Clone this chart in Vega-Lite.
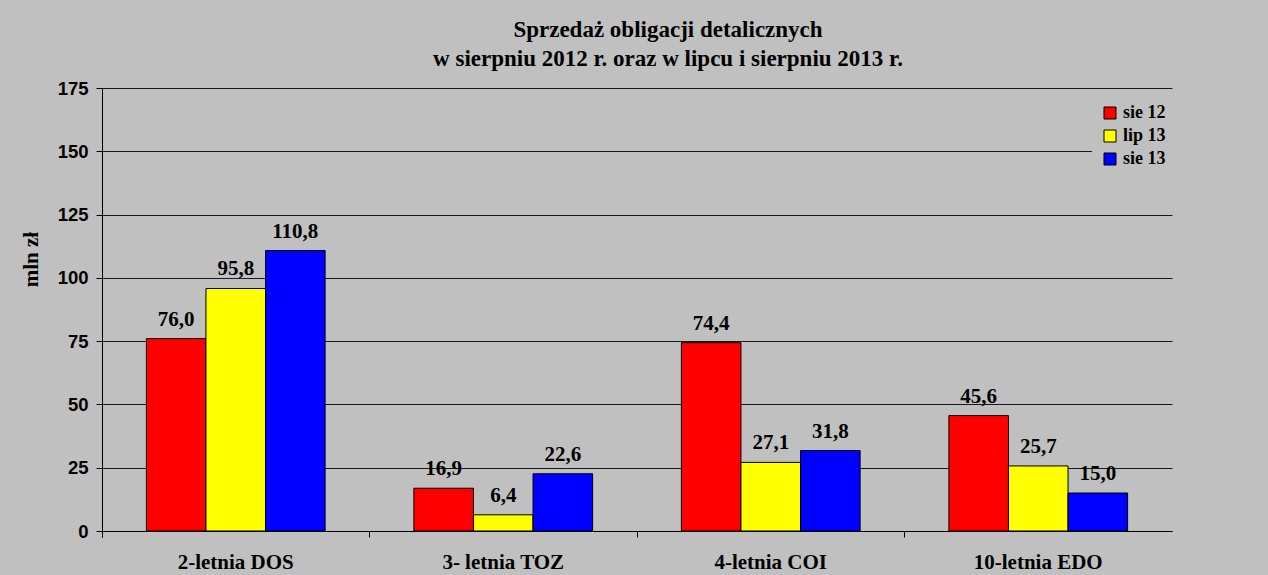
{
  "$schema": "https://vega.github.io/schema/vega-lite/v6.json",
  "width": 1070,
  "height": 443,
  "autosize": {"type": "none"},
  "padding": {"left": 102, "top": 88, "right": 96, "bottom": 44},
  "background": "#C0C0C0",
  "title": {
    "text": ["Sprzedaż obligacji detalicznych", "w sierpniu 2012 r. oraz w lipcu i sierpniu 2013 r."],
    "font": "Liberation Serif",
    "fontSize": 23,
    "fontWeight": "bold",
    "color": "black",
    "lineHeight": 29,
    "anchor": "middle",
    "dx": 31,
    "offset": -10,
    "baseline": "alphabetic"
  },
  "data": {
    "values": [
      {"typ": "2-letnia DOS", "okres": "sie 12", "wartosc": 76.0},
      {"typ": "2-letnia DOS", "okres": "lip 13", "wartosc": 95.8},
      {"typ": "2-letnia DOS", "okres": "sie 13", "wartosc": 110.8},
      {"typ": "3- letnia TOZ", "okres": "sie 12", "wartosc": 16.9},
      {"typ": "3- letnia TOZ", "okres": "lip 13", "wartosc": 6.4},
      {"typ": "3- letnia TOZ", "okres": "sie 13", "wartosc": 22.6},
      {"typ": "4-letnia COI", "okres": "sie 12", "wartosc": 74.4},
      {"typ": "4-letnia COI", "okres": "lip 13", "wartosc": 27.1},
      {"typ": "4-letnia COI", "okres": "sie 13", "wartosc": 31.8},
      {"typ": "10-letnia EDO", "okres": "sie 12", "wartosc": 45.6},
      {"typ": "10-letnia EDO", "okres": "lip 13", "wartosc": 25.7},
      {"typ": "10-letnia EDO", "okres": "sie 13", "wartosc": 15.0}
    ]
  },
  "encoding": {
    "x": {
      "field": "typ",
      "type": "nominal",
      "sort": ["2-letnia DOS", "3- letnia TOZ", "4-letnia COI", "10-letnia EDO"],
      "scale": {"paddingInner": 0, "paddingOuter": 0},
      "axis": {
        "title": null,
        "bandPosition": 0,
        "tickExtra": true,
        "labelOffset": 0,
        "labelAngle": 0,
        "domainColor": "black",
        "tickColor": "black",
        "tickSize": 6,
        "labelFont": "Liberation Serif",
        "labelFontSize": 21,
        "labelFontWeight": "bold",
        "labelColor": "black",
        "labelPadding": 14,
        "labelBaseline": "top"
      }
    },
    "xOffset": {
      "field": "okres",
      "type": "nominal",
      "sort": ["sie 12", "lip 13", "sie 13"],
      "scale": {"paddingInner": 0, "paddingOuter": 0.745}
    },
    "y": {
      "field": "wartosc",
      "type": "quantitative",
      "scale": {"domain": [0, 175], "nice": false},
      "axis": {
        "values": [0, 25, 50, 75, 100, 125, 150, 175],
        "grid": true,
        "gridColor": "#1a1a1a",
        "gridWidth": 1,
        "domainColor": "black",
        "tickColor": "black",
        "tickSize": 6,
        "labelFont": "Liberation Sans",
        "labelFontSize": 18.5,
        "labelFontWeight": "bold",
        "labelColor": "black",
        "labelPadding": 8,
        "title": "mln zł",
        "titleFont": "Liberation Serif",
        "titleFontSize": 21,
        "titleFontWeight": "bold",
        "titleColor": "black",
        "titleX": -71,
        "titleY": 171,
        "titleAngle": 270,
        "titleAlign": "center",
        "titleBaseline": "middle"
      }
    }
  },
  "layer": [
    {
      "mark": {"type": "bar", "stroke": "black", "strokeWidth": 1, "opacity": 1},
      "encoding": {
        "color": {
          "field": "okres",
          "type": "nominal",
          "sort": ["sie 12", "lip 13", "sie 13"],
          "scale": {"domain": ["sie 12", "lip 13", "sie 13"], "range": ["#FF0000", "#FFFF00", "#0000FF"]},
          "legend": {
            "title": null,
            "orient": "none",
            "legendX": 990,
            "legendY": 7,
            "padding": 9,
            "fillColor": "#C0C0C0",
            "symbolType": "square",
            "symbolSize": 144,
            "symbolStrokeColor": "black",
            "symbolStrokeWidth": 1,
            "symbolOpacity": 1,
            "labelFont": "Liberation Serif",
            "labelFontSize": 18,
            "labelFontWeight": "bold",
            "labelColor": "black",
            "labelOffset": 4,
            "rowPadding": 5
          }
        }
      }
    },
    {
      "mark": {"type": "text", "font": "Liberation Serif", "fontSize": 21, "fontWeight": "bold", "baseline": "alphabetic", "dy": -13, "color": "black"},
      "encoding": {
        "text": {"field": "wartosc", "type": "quantitative", "format": ".1f"}
      }
    }
  ],
  "config": {
    "view": {"stroke": null},
    "locale": {"number": {"decimal": ",", "thousands": " ", "grouping": [3], "currency": ["", " zł"]}}
  }
}
